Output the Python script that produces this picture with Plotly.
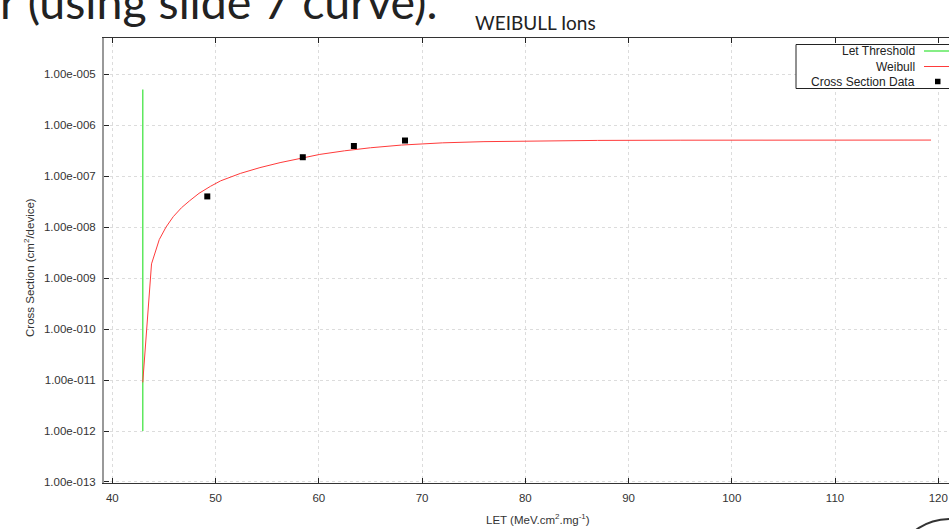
import plotly.graph_objects as go

# ---------------- data ----------------
threshold_let = [42.95, 42.95]
threshold_sigma = [1e-12, 5e-6]

weibull_let = [42.95, 43.8, 44.55, 45.2, 45.9, 46.7, 47.5, 48.4, 49.5, 50.5, 52.4, 54.3,
               56.25, 58.2, 60.1, 62.5, 65, 68, 72, 76, 80, 87, 95, 105, 119.3]
weibull_sigma = [9e-12, 1.9e-9, 5.7e-9, 1.0e-8, 1.6e-8, 2.4e-8, 3.3e-8, 4.6e-8, 6.3e-8, 8.1e-8,
                 1.13e-7, 1.47e-7, 1.84e-7, 2.25e-7, 2.67e-7, 3.14e-7, 3.6e-7, 4.07e-7, 4.5e-7,
                 4.75e-7, 4.9e-7, 5.02e-7, 5.07e-7, 5.1e-7, 5.1e-7]

data_let = [49.2, 58.45, 63.4, 68.35]
data_sigma = [4.0e-8, 2.35e-7, 3.9e-7, 5.0e-7]

x_ticks = [40, 50, 60, 70, 80, 90, 100, 110, 120]
y_ticks = [1e-13, 1e-12, 1e-11, 1e-10, 1e-9, 1e-8, 1e-7, 1e-6, 1e-5]
y_tick_text = ["1.00e-013", "1.00e-012", "1.00e-011", "1.00e-010", "1.00e-009",
               "1.00e-008", "1.00e-007", "1.00e-006", "1.00e-005"]

legend_names = ["Let Threshold", "Weibull", "Cross Section Data"]

# ---------------- layout geometry ----------------
W, H = 949, 529
ML, MR, MT, MB = 104, 0, 38, 46
PW, PH = W - ML - MR, H - MT - MB

def px(xp):
    return (xp - ML) / PW

def py(yp):
    return 1 - (yp - MT) / PH

GREEN = "#5ee85e"
RED = "#ff3b3b"
FONT = "Liberation Sans"

fig = go.Figure()
fig.add_trace(go.Scatter(x=threshold_let, y=threshold_sigma, mode="lines",
                         line=dict(color=GREEN, width=1.5), name=legend_names[0]))
fig.add_trace(go.Scatter(x=weibull_let, y=weibull_sigma, mode="lines",
                         line=dict(color=RED, width=1), name=legend_names[1]))
fig.add_trace(go.Scatter(x=data_let, y=data_sigma, mode="markers",
                         marker=dict(symbol="square", size=6, color="black"),
                         name=legend_names[2]))

fig.update_layout(
    width=W, height=H,
    margin=dict(l=ML, r=MR, t=MT, b=MB),
    paper_bgcolor="white", plot_bgcolor="white",
    showlegend=False,
    font=dict(family=FONT, size=11, color="#333"),
)

fig.update_xaxes(range=[39.196, 121.04], tickvals=x_ticks, ticks="inside", ticklen=5,
                 tickcolor="#222", showline=True, linecolor="#333", linewidth=1,
                 mirror="allticks", showgrid=True, gridcolor="#dcdcdc", griddash="dot",
                 gridwidth=1, zeroline=False, tickfont=dict(family=FONT, size=11.5, color="#333"),
                 ticklabelstandoff=4)
fig.update_yaxes(type="log", range=[-13.02, -4.29], tickvals=y_ticks, ticktext=y_tick_text,
                 ticks="inside", ticklen=5, tickcolor="#222", showline=True,
                 linecolor="#999", linewidth=2, mirror=False, showgrid=True,
                 gridcolor="#dcdcdc", griddash="dot", gridwidth=1, zeroline=False,
                 tickfont=dict(family=FONT, size=11.5, color="#333"), ticklabelstandoff=4)

ann = []
# slide text cut off at the top
ann.append(dict(text="r (using slide 7 curve).", x=px(-2), y=py(1), xref="paper", yref="paper",
                xanchor="left", yanchor="middle", showarrow=False,
                font=dict(family="Lato", size=46.5, color="#222")))
# title
ann.append(dict(text="WEIBULL Ions", x=px(535), y=py(22), xref="paper", yref="paper",
                xanchor="center", yanchor="middle", showarrow=False,
                font=dict(family="Lato", size=19, color="#222")))
# axis titles
ann.append(dict(text="LET (MeV.cm<sup>2</sup>.mg<sup>-1</sup>)", x=px(538), y=py(519),
                xref="paper", yref="paper", xanchor="center", yanchor="middle",
                showarrow=False, font=dict(family=FONT, size=11.5, color="#333")))
ann.append(dict(text="Cross Section (cm<sup>2</sup>/device)", x=px(29), y=py(268),
                xref="paper", yref="paper", xanchor="center", yanchor="middle",
                textangle=-90, showarrow=False, font=dict(family=FONT, size=11.5, color="#333")))

shapes = []
# legend box
shapes.append(dict(type="rect", xref="paper", yref="paper", x0=px(796), x1=px(990),
                   y0=py(88.5), y1=py(44.5), fillcolor="white",
                   line=dict(color="#222", width=1), layer="above"))
leg_y = [51, 66.5, 81.5]
for name, yy in zip(legend_names, leg_y):
    ann.append(dict(text=name, x=px(917), y=py(yy), xref="paper", yref="paper",
                    xanchor="right", yanchor="middle", showarrow=False,
                    font=dict(family=FONT, size=12, color="#222")))
shapes.append(dict(type="line", xref="paper", yref="paper", x0=px(924), x1=px(960),
                   y0=py(leg_y[0]), y1=py(leg_y[0]), line=dict(color=GREEN, width=1.5),
                   layer="above"))
shapes.append(dict(type="line", xref="paper", yref="paper", x0=px(924), x1=px(960),
                   y0=py(leg_y[1]), y1=py(leg_y[1]), line=dict(color=RED, width=1),
                   layer="above"))
shapes.append(dict(type="rect", xref="paper", yref="paper", x0=px(935), x1=px(940.5),
                   y0=py(leg_y[2] + 2.75), y1=py(leg_y[2] - 2.75), fillcolor="black",
                   line=dict(width=0), layer="above"))
# slide decoration partly visible at bottom right
shapes.append(dict(type="circle", xref="paper", yref="paper", x0=px(905), x1=px(1000),
                   y0=py(580), y1=py(519), line=dict(color="#333", width=2),
                   fillcolor="rgba(0,0,0,0)", layer="above"))

fig.update_layout(annotations=ann, shapes=shapes)
fig.write_html("out.html", config={"displayModeBar": False},
               post_script="document.body.style.margin='0';document.body.style.overflow='hidden';")
